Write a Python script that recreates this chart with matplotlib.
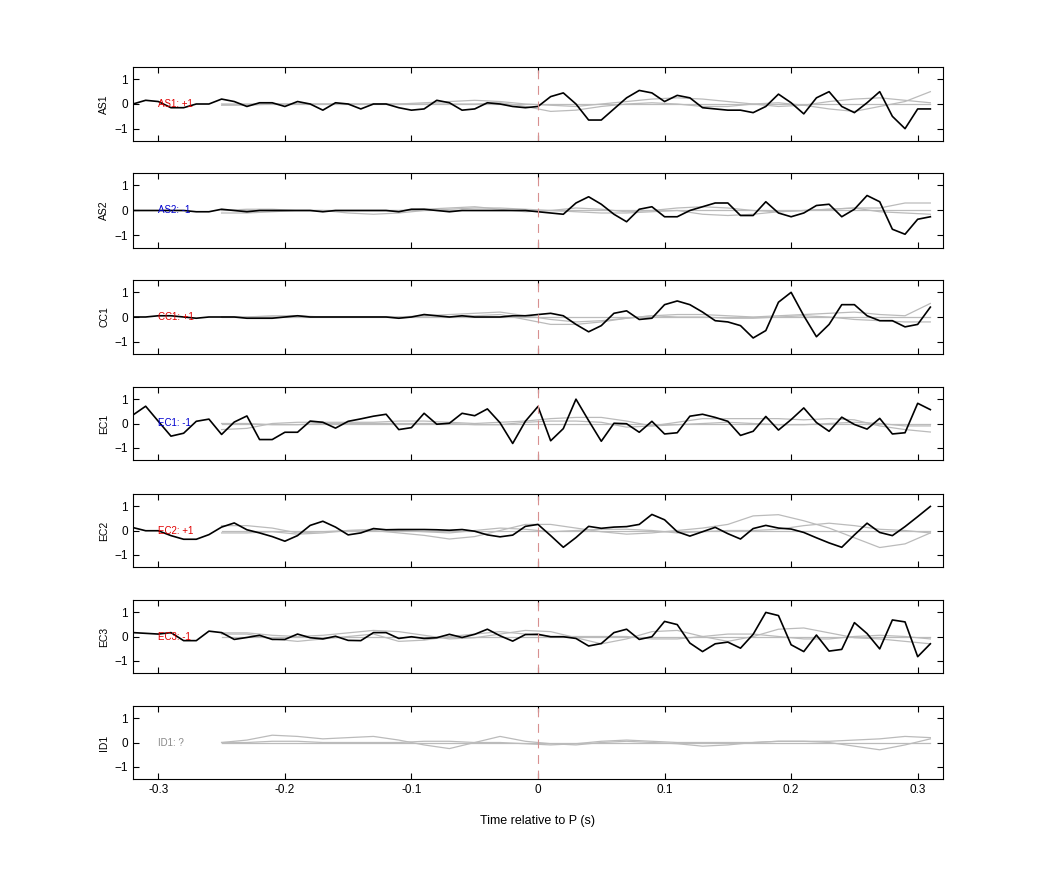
"""Per-channel traces around P arrival, Octave-style stacked panels."""
import numpy as np
import matplotlib
matplotlib.use("Agg")
import matplotlib.pyplot as plt

plt.rcParams["font.family"] = ["Liberation Sans", "DejaVu Sans"]

channels = ["AS1", "AS2", "CC1", "EC1", "EC2", "EC3", "ID1"]
labels = ["AS1: +1", "AS2: -1", "CC1: +1", "EC1: -1", "EC2: +1", "EC3: -1", "ID1: ?"]
label_colors = ["#e00000", "#0000d0", "#e00000", "#0000d0", "#e00000", "#e00000", "#888888"]

# black trace: one sample every 0.01 s from -0.32 to 0.31
t_black = np.round(np.arange(-0.32, 0.315, 0.01), 2)

as1 = [0, 0.15, 0.1, -0.15, -0.15, 0, 0, 0.2, 0.1, -0.1, 0.05, 0.05, -0.1, 0.1, 0, -0.25,
       0.05, 0, -0.2, 0, 0, -0.15, -0.25, -0.2, 0.15, 0.05, -0.25, -0.2, 0.05, 0, -0.1, -0.15,
       -0.1, 0.3, 0.45, 0, -0.65, -0.65, -0.2, 0.25, 0.55, 0.45, 0.1, 0.35, 0.25, -0.15,
       -0.2, -0.25, -0.25, -0.35, -0.1, 0.4, 0.05, -0.4, 0.25, 0.5, -0.1, -0.35, 0.05, 0.5,
       -0.5, -1.0, -0.2, -0.2]
as2 = [0, 0, 0, 0, 0, -0.05, -0.05, 0.05, 0, -0.05, 0, 0, 0, 0, 0, -0.05, 0, 0, 0, 0, 0,
       -0.05, 0.05, 0.05, 0, -0.05, 0, 0, 0, 0, 0, 0, -0.05, -0.1, -0.15, 0.3, 0.55, 0.25,
       -0.15, -0.45, 0.05, 0.15, -0.25, -0.25, 0, 0.15, 0.3, 0.3, -0.2, -0.2, 0.35, -0.1,
       -0.25, -0.1, 0.2, 0.25, -0.25, 0.05, 0.6, 0.35, -0.75, -0.95, -0.35, -0.25]
cc1 = [0, 0, 0.05, 0.05, 0, -0.05, 0, 0, 0, -0.05, -0.05, -0.05, 0, 0.05, 0, 0, 0, 0, 0,
       0, 0, -0.05, 0, 0.1, 0.05, 0, 0.05, 0, 0, 0, 0.05, 0.05, 0.1, 0.15, 0.05, -0.3, -0.6,
       -0.35, 0.15, 0.25, -0.1, -0.05, 0.5, 0.65, 0.5, 0.2, -0.15, -0.2, -0.35, -0.85,
       -0.55, 0.6, 1.0, 0.05, -0.8, -0.3, 0.5, 0.5, 0.05, -0.15, -0.15, -0.4, -0.3, 0.4]
ec1_px = [90, 62, 110, 157, 148, 110, 103, 152, 112, 93, 168, 168, 145, 145, 109, 113, 132,
          110, 102, 94, 88, 136, 130, 85, 119, 116, 85, 92, 71, 115, 180, 110, 63, 172, 133,
          40, 108, 173, 116, 118, 145, 110, 150, 146, 94, 88, 98, 110, 155, 142, 95, 138,
          105, 68, 114, 142, 97, 120, 135, 101, 150, 146, 53, 73]
ec2_px = [105, 115, 115, 130, 142, 142, 127, 103, 90, 112, 122, 133, 148, 130, 98, 85, 103,
          128, 122, 108, 112, 111, 111, 111, 112, 113, 111, 116, 128, 134, 129, 101, 95, 130,
          167, 136, 101, 107, 103, 102, 95, 63, 80, 118, 132, 118, 104, 124, 141, 108, 98,
          106, 109, 120, 137, 153, 167, 128, 91, 120, 130, 102, 70, 38]
ec3_px = [102, 104, 106, 102, 127, 127, 97, 102, 123, 117, 110, 123, 123, 106, 118, 122,
          113, 126, 127, 102, 102, 120, 115, 120, 118, 107, 117, 107, 91, 112, 129, 108, 107,
          115, 115, 120, 144, 136, 102, 91, 123, 115, 66, 76, 135, 162, 137, 132, 151, 107,
          38, 48, 140, 162, 109, 160, 155, 70, 105, 153, 62, 68, 178, 137]
ec1 = [round((117 - p) / 77, 2) for p in ec1_px]
ec2 = [round((114 - p) / 77, 2) for p in ec2_px]
ec3 = [round((114 - p) / 77, 2) for p in ec3_px]
black = [as1, as2, cc1, ec1, ec2, ec3, None]

# gray comparison traces: one value every 0.02 s from -0.25 to 0.31
t_gray = np.round(np.arange(-0.25, 0.315, 0.02), 2)
gray = {
    "AS1": [
        [0] * 29,
        [-0.05, -0.05, 0, 0, 0, 0, 0, 0, 0.05, 0.1, 0.15, 0.1, 0, -0.05, -0.1, 0, 0.1, 0.2,
         0.25, 0.2, 0.1, 0, -0.1, -0.05, 0.1, 0.2, 0.25, 0.15, 0.05],
        [0, 0, 0, 0, 0, 0, 0, 0, 0, 0, 0, 0.05, -0.1, -0.3, -0.25, -0.1, 0, 0.05, 0, -0.1,
         -0.1, 0, 0.05, -0.05, -0.2, -0.3, -0.1, 0.1, 0.5],
    ],
    "AS2": [
        [0] * 29,
        [-0.1, -0.1, -0.05, 0, 0, -0.1, -0.15, -0.1, 0, 0.05, 0.1, 0.1, 0.05, 0, -0.05, -0.1,
         -0.1, -0.05, 0, -0.15, -0.2, -0.15, -0.05, 0, 0.05, 0.1, 0.1, 0.3, 0.3],
        [0, 0.05, 0.05, 0, 0, 0, 0, 0, 0.05, 0.1, 0.15, 0.05, -0.05, 0, 0.1, 0.05, -0.05, 0,
         0.1, 0.15, 0.1, 0, -0.05, 0, 0.05, 0.1, -0.05, -0.1, -0.15],
    ],
    "CC1": [
        [0] * 29,
        [0, 0, 0.05, 0.05, 0, 0, 0, 0, 0.05, 0.1, 0.15, 0.2, 0.05, -0.1, -0.2, -0.15, -0.05,
         0.05, 0.1, 0.1, 0.05, 0, 0.05, 0.1, 0.15, 0.2, 0.1, 0.05, 0.55],
        [0, 0, 0, 0, 0, 0, 0, 0, 0, 0, 0.05, 0.1, -0.1, -0.3, -0.3, -0.2, -0.05, 0.05, 0, 0,
         -0.05, -0.05, 0, 0.05, 0, -0.1, -0.15, -0.2, -0.2],
    ],
    "EC1": [
        [0] * 29,
        [-0.25, -0.2, 0, 0.05, 0.05, 0.05, 0.05, 0.1, 0.1, 0.05, 0, 0.05, 0.1, 0.2, 0.25, 0.25,
         0.1, -0.1, 0.05, 0.2, 0.2, 0.2, 0.2, 0.15, 0.2, 0.15, -0.1, -0.25, -0.35],
        [0, 0, -0.05, -0.05, 0, 0, 0, 0, 0, 0, -0.05, -0.05, 0.05, 0.1, 0.1, 0.05, -0.15,
         -0.1, -0.05, 0, 0.05, 0, -0.05, -0.05, 0, 0.05, 0, -0.1, -0.1],
    ],
    "EC2": [
        [0] * 29,
        [0.2, 0.2, 0.1, -0.1, -0.05, 0, 0, -0.1, -0.2, -0.35, -0.25, 0, 0.25, 0.25, 0.1,
         -0.05, -0.15, -0.1, 0, 0.1, 0.25, 0.6, 0.65, 0.4, 0.1, -0.3, -0.7, -0.55, -0.1],
        [-0.1, -0.1, -0.05, -0.15, -0.1, 0, 0.05, 0, -0.05, -0.1, 0, 0.1, 0.05, -0.05, 0,
         0.05, 0.05, 0, -0.1, -0.05, 0, 0, 0.05, 0.2, 0.3, 0.2, 0.05, 0, -0.1],
    ],
    "EC3": [
        [0] * 29,
        [0.15, 0.15, 0.05, 0, 0.05, 0.15, 0.25, 0.2, 0.05, -0.1, -0.05, 0.1, 0.25, 0.2,
         -0.05, -0.3, -0.1, 0.2, 0.25, 0, -0.2, 0, 0.3, 0.35, 0.15, -0.05, -0.1, -0.2, -0.3],
        [0.1, 0.1, -0.1, -0.2, -0.1, 0, 0.1, -0.2, -0.15, 0, 0.1, 0.2, 0.1, 0, 0, 0, 0,
         -0.1, -0.1, 0, 0.1, 0.1, 0, -0.1, -0.1, 0, 0.05, 0, -0.1],
    ],
    "ID1": [
        [0] * 29,
        [0, 0.1, 0.3, 0.25, 0.15, 0.2, 0.25, 0.1, -0.1, -0.25, 0, 0.25, 0.05, -0.05, -0.1,
         0, 0.05, 0, -0.05, -0.15, -0.1, 0, 0.05, 0.05, 0, -0.15, -0.3, -0.1, 0.15],
        [0, 0, 0.05, 0.05, 0, 0, 0, 0, 0.05, 0.05, 0, 0, -0.05, -0.1, -0.05, 0.05, 0.1,
         0.05, 0, 0, 0, 0, 0.05, 0.05, 0.05, 0.1, 0.15, 0.25, 0.2],
    ],
}

fig = plt.figure(figsize=(10.42, 8.75), dpi=100)
tops = [67, 173, 280, 387, 494, 600, 706]
bots = [141, 248, 354, 460, 567, 673, 779]
left, right = 133 / 1042, 943 / 1042

for i, ch in enumerate(channels):
    ax = fig.add_axes([left, 1 - bots[i] / 875, right - left, (bots[i] - tops[i]) / 875])
    for g in gray[ch]:
        ax.plot(t_gray, g, color="#bbbbbb", lw=0.9)
    if black[i] is not None:
        ax.plot(t_black, black[i], color="black", lw=1.2)
    ax.axvline(0, color="#d89090", lw=0.8, ls=(0, (8, 6)))
    ax.text(-0.3, 0, labels[i], color=label_colors[i], fontsize=7, va="center")
    ax.set_xlim(-0.32, 0.32)
    ax.set_ylim(-1.5, 1.5)
    ax.set_yticks([-1, 0, 1])
    ax.set_xticks([-0.3, -0.2, -0.1, 0, 0.1, 0.2, 0.3])
    ax.tick_params(direction="in", top=True, right=True, labelsize=8.5, length=4)
    ax.set_ylabel(ch, fontsize=7.5)
    if i < len(channels) - 1:
        ax.set_xticklabels([])
    else:
        ax.set_xticklabels(["-0.3", "-0.2", "-0.1", "0", "0.1", "0.2", "0.3"])
        ax.set_xlabel("Time relative to P (s)", fontsize=9, labelpad=14)

fig.savefig("out.png", dpi=100)
